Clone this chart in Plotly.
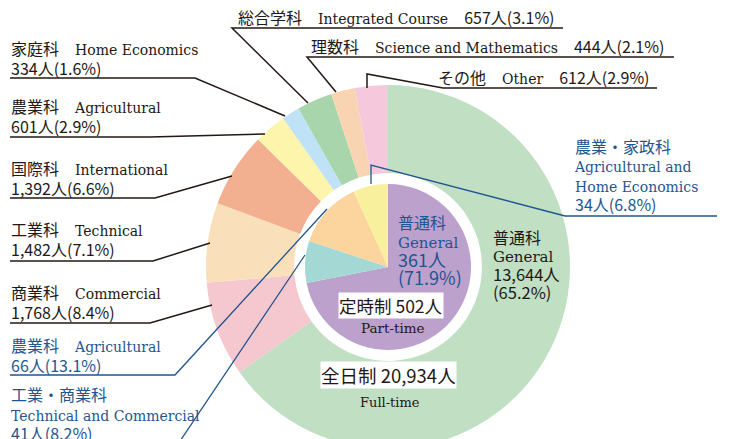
import plotly.graph_objects as go

W, H = 729, 460  # paper taller than the window so the ring is cut at the bottom

# ---- data: full-time (outer ring), clockwise from 12 o'clock ----
ft_jp = ["普通科", "商業科", "工業科", "国際科", "農業科", "家庭科", "総合学科", "理数科", "その他"]
ft_en = ["General", "Commercial", "Technical", "International", "Agricultural",
         "Home Economics", "Integrated Course", "Science and Mathematics", "Other"]
ft_n = [13644, 1768, 1482, 1392, 601, 334, 657, 444, 612]
ft_pct = [65.2, 8.4, 7.1, 6.6, 2.9, 1.6, 3.1, 2.1, 2.9]
ft_total = 20934

# ---- data: part-time (inner pie), clockwise from 12 o'clock ----
pt_jp = ["普通科", "工業・商業科", "農業科", "農業・家政科"]
pt_en = ["General", "Technical and Commercial", "Agricultural", "Agricultural and Home Economics"]
pt_n = [361, 41, 66, 34]
pt_pct = [71.9, 8.2, 13.1, 6.8]
pt_total = 502

ft_colors = ["#c0dfc3", "#f5c7cf", "#f9e0ba", "#f3b090", "#fdf5ac",
             "#bfe2f6", "#a8d5ac", "#f9d4b2", "#f5c8dc"]
pt_colors = ["#bca1cc", "#a4d8d4", "#fbd49e", "#f8f09c"]

JP = "Noto Sans CJK JP"
SERIF = "DejaVu Serif"
BLACK = "#231815"
BLUE = "#1f5590"


def X(px):
    return px / W


def Y(py):
    return 1 - py / H


def serif(s, size=14):
    return f"<span style=\"font-family:{SERIF};font-size:{size}px\">{s}</span>"


def sized(s, size=16):
    return f"<span style=\"font-size:{size}px\">{s}</span>"


def count(n, p):
    return f"{n:,}人({p}%)"


fig = go.Figure()

cx, cy, R, r_in = 388, 267, 182, 83
fig.add_trace(go.Pie(
    labels=ft_en, values=ft_n, sort=False, direction="clockwise", rotation=0,
    hole=0.516, marker=dict(colors=ft_colors, line=dict(width=0)),
    textinfo="none", hoverinfo="label+value", showlegend=False,
    domain=dict(x=[X(cx - R), X(cx + R)], y=[Y(cy + R), Y(cy - R)]),
))
fig.add_trace(go.Pie(
    labels=pt_en, values=pt_n, sort=False, direction="clockwise", rotation=0,
    marker=dict(colors=pt_colors, line=dict(width=0)),
    textinfo="none", hoverinfo="label+value", showlegend=False,
    domain=dict(x=[X(cx - r_in), X(cx + r_in)], y=[Y(cy + r_in), Y(cy - r_in)]),
))

annotations = []


def ann(text, x, y, color=BLACK, size=16, xanchor="left", align="left", **kw):
    annotations.append(dict(
        text=text, x=X(x), y=Y(y), xref="paper", yref="paper", showarrow=False,
        xanchor=xanchor, yanchor="middle", align=align,
        font=dict(family=JP, size=size, color=color), **kw))


def block(lines, x, y_first, spacing, color=BLACK):
    """Multi-line label; spacing in px between baselines (plotly uses 1.3 * font size)."""
    n = len(lines)
    yc = y_first + spacing * (n - 1) / 2
    ann("<br>".join(lines), x, yc, color=color, size=spacing / 1.3)


# single-line labels at top
ann(f"{ft_jp[6]}　{serif(ft_en[6])}　{count(ft_n[6], ft_pct[6])}", 236, 17)
ann(f"{ft_jp[7]}　{serif(ft_en[7])}　{count(ft_n[7], ft_pct[7])}", 309, 46)
ann(f"{ft_jp[8]}　{serif(ft_en[8])}　{count(ft_n[8], ft_pct[8])}", 436, 77)

# two-line labels on the left
for i, y0 in [(5, 48), (4, 106), (3, 168), (2, 229), (1, 292)]:
    block([sized(f"{ft_jp[i]}　{serif(ft_en[i])}"), sized(count(ft_n[i], ft_pct[i]))], 9, y0, 20)

# part-time labels (blue)
block([sized(f"{pt_jp[2]}　{serif(pt_en[2])}"), sized(count(pt_n[2], pt_pct[2]))], 9, 345, 20, BLUE)
block([sized(pt_jp[1]), serif(pt_en[1]), sized(count(pt_n[1], pt_pct[1]))], 9, 394, 19.5, BLUE)
block([sized(pt_jp[3]), serif("Agricultural and"), serif("Home Economics"),
       sized(count(pt_n[3], pt_pct[3]))], 572, 146, 19.3, BLUE)

# inside labels: part-time General
block([sized(pt_jp[0]), serif(pt_en[0], 15), sized(f"{pt_n[0]}人", 18),
       sized(f"({pt_pct[0]}%)", 18)], 396, 222, 18.8, BLUE)
# full-time General
block([sized(ft_jp[0]), serif(ft_en[0], 15), sized(f"{ft_n[0]:,}人", 16.5),
       sized(f"({ft_pct[0]}%)", 16.5)], 491, 237, 18.4)

ann(f"定時制 {pt_total}人", 391, 305, size=17.5, xanchor="center", bgcolor="white", borderpad=0)
ann(serif("Part-time", 13.5), 393, 328, xanchor="center", size=13)
ann(f"全日制 {ft_total:,}人", 388, 375, size=18.5, xanchor="center", bgcolor="white", borderpad=0)
ann(serif("Full-time", 13), 390, 402, xanchor="center", size=13)

# leader lines
black_lines = [
    [(563, 28), (232, 28), (308, 103)],
    [(674, 57), (307, 57), (336, 92)],
    [(657, 88), (443, 88), (367, 74), (367, 88)],
    [(10, 78), (195, 78), (285, 116)],
    [(10, 137), (150, 137), (265, 134)],
    [(10, 198), (155, 198), (232, 176)],
    [(10, 261), (153, 261), (210, 243)],
    [(10, 323), (150, 323), (212, 305)],
]
blue_lines = [
    [(10, 375), (175, 375), (327, 209)],
    [(10, 447), (176, 447), (305, 255)],
    [(717, 216), (565, 216), (371, 165), (371, 184)],
]

shapes = []
for pts, col, w in [(p, BLACK, 1.5) for p in black_lines] + [(p, BLUE, 1.3) for p in blue_lines]:
    path = "M " + " L ".join(f"{X(a):.5f},{Y(b):.5f}" for a, b in pts)
    shapes.append(dict(type="path", path=path, xref="paper", yref="paper",
                       line=dict(color=col, width=w)))

fig.update_layout(
    width=W, height=H, margin=dict(l=0, r=0, t=0, b=0),
    paper_bgcolor="white", plot_bgcolor="white",
    annotations=annotations, shapes=shapes,
)

fig.write_html("out.html", config={"displayModeBar": False},
               post_script="document.body.style.margin='0';document.body.style.overflow='hidden';")
